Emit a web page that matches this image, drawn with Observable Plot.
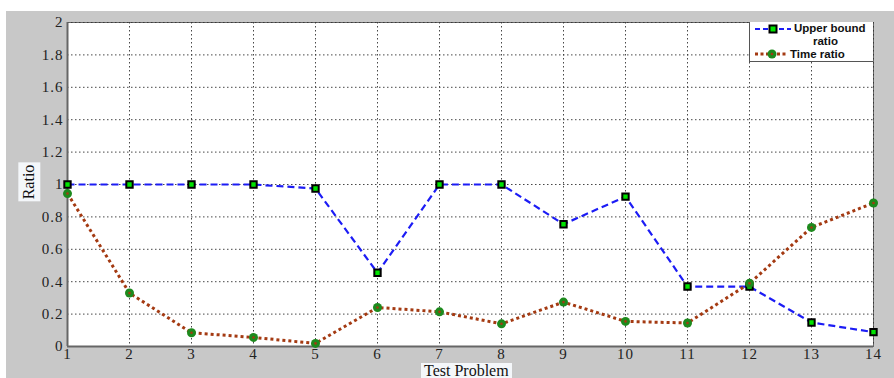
<!DOCTYPE html>
<html>
<head>
<meta charset="utf-8">
<script src="https://cdn.jsdelivr.net/npm/d3@7"></script>
<script src="https://cdn.jsdelivr.net/npm/@observablehq/plot@0.6"></script>
<style>
  html, body { margin: 0; padding: 0; background: #ffffff; }
  #wrap { position: relative; width: 894px; height: 378px; overflow: hidden; }
  #panel { position: absolute; left: 6px; top: 11px; width: 888px; height: 367px; background: #c8c8c8; }
  #panel svg { display: block; }
  #panel svg g[aria-label$="axis tick label"] text { letter-spacing: 1px; }
  .lab { position: absolute; font-family: "Liberation Serif", serif; color: #111; background: #f4f7fa; line-height: 1; }
  #ylab { left: 10px; top: 171px; font-size: 16px; padding: 3px 2px; transform: rotate(-90deg); transform-origin: center; }
  #xlab { left: 421px; top: 363px; font-size: 16px; padding: 0px 3px 1px 3px; }
  #legend { position: absolute; left: 749px; top: 22px; width: 123px; height: 39px; background: #fff;
            border-left: 1px solid #555; border-bottom: 1px solid #555; font-family: "Liberation Sans", Arial, sans-serif;
            font-weight: bold; font-size: 11.5px; color: #111; }
  #legend .t { position: absolute; white-space: nowrap; line-height: 13px; height: 13px; }
  #legend svg { position: absolute; left: 0; top: 0; }
</style>
</head>
<body>
<div id="wrap">
  <div id="panel"></div>
  <div class="lab" id="ylab">Ratio</div>
  <div class="lab" id="xlab">Test Problem</div>
  <div id="legend"></div>
</div>
<script>
// ---- data ----
const problems = [1, 2, 3, 4, 5, 6, 7, 8, 9, 10, 11, 12, 13, 14];
const upperBoundRatio = [1, 1, 1, 1, 0.975, 0.455, 1, 1, 0.755, 0.925, 0.37, 0.37, 0.148, 0.089];
const timeRatio = [0.944, 0.33, 0.085, 0.056, 0.019, 0.241, 0.214, 0.14, 0.274, 0.155, 0.145, 0.39, 0.735, 0.886];
const yTicks = [0, 0.2, 0.4, 0.6, 0.8, 1, 1.2, 1.4, 1.6, 1.8, 2];
const seriesNames = ["Upper bound", "ratio", "Time ratio"];

const upperColor = "#1c1cf5";
const timeColor = "#a43a12";
const squareFill = "#00e400";
const circleFill = "#1d8a1d";

const rows = problems.map((p, i) => ({p, ub: upperBoundRatio[i], tr: timeRatio[i]}));

const chart = Plot.plot({
  width: 888,
  height: 367,
  marginLeft: 61,
  marginTop: 11,
  marginRight: 21,
  marginBottom: 32,
  style: {background: "transparent", fontFamily: "'Liberation Serif', serif", fontSize: "15px", color: "#222"},
  x: {domain: [1, 14], label: null},
  y: {domain: [0, 2], label: null},
  marks: [
    Plot.frame({fill: "white", stroke: "#666", strokeWidth: 1}),
    Plot.gridX(problems, {stroke: "#333", strokeOpacity: 0.9, strokeDasharray: "1.5,2.5"}),
    Plot.gridY(yTicks, {stroke: "#333", strokeOpacity: 0.9, strokeDasharray: "1.5,2.5"}),
    Plot.ruleY([0], {stroke: "#666", strokeWidth: 2}),
    Plot.ruleX([1], {stroke: "#666", strokeWidth: 2}),
    Plot.axisX(problems, {tickSize: 0, tickPadding: 2, fontSize: 15, fill: "#222"}),
    Plot.axisY(yTicks, {tickSize: 0, tickPadding: 4, fontSize: 15, fill: "#222", tickFormat: d => String(d)}),
    Plot.line(rows, {x: "p", y: "ub", stroke: upperColor, strokeWidth: 2.2, strokeDasharray: "7,4", strokeLinecap: "butt"}),
    Plot.line(rows, {x: "p", y: "tr", stroke: timeColor, strokeWidth: 3, strokeDasharray: "3,3", strokeLinecap: "butt"}),
    Plot.dot(rows, {x: "p", y: "ub", symbol: "square", r: 3.6, fill: squareFill, stroke: "#000", strokeWidth: 2}),
    Plot.dot(rows, {x: "p", y: "tr", r: 4.5, fill: circleFill}),
    Plot.dot(rows, {x: "p", y: "tr", r: 1.3, fill: timeColor})
  ]
});
document.getElementById("panel").appendChild(chart);

// ---- legend ----
const lg = document.getElementById("legend");
lg.innerHTML = `
<svg width="123" height="39">
  <line x1="5" y1="7" x2="41" y2="7" stroke="${upperColor}" stroke-width="2" stroke-dasharray="5,3"/>
  <rect x="19.5" y="3.5" width="7" height="7" fill="${squareFill}" stroke="#000" stroke-width="2"/>
  <line x1="5" y1="32" x2="38" y2="32" stroke="${timeColor}" stroke-width="3" stroke-dasharray="3,2.5"/>
  <circle cx="22" cy="32" r="4.5" fill="${circleFill}"/>
  <circle cx="22" cy="32" r="1.3" fill="${timeColor}"/>
</svg>
<div class="t" style="left:44px;top:0px">${seriesNames[0]}</div>
<div class="t" style="left:63px;top:13px">${seriesNames[1]}</div>
<div class="t" style="left:40px;top:26px">${seriesNames[2]}</div>`;
</script>
</body>
</html>
